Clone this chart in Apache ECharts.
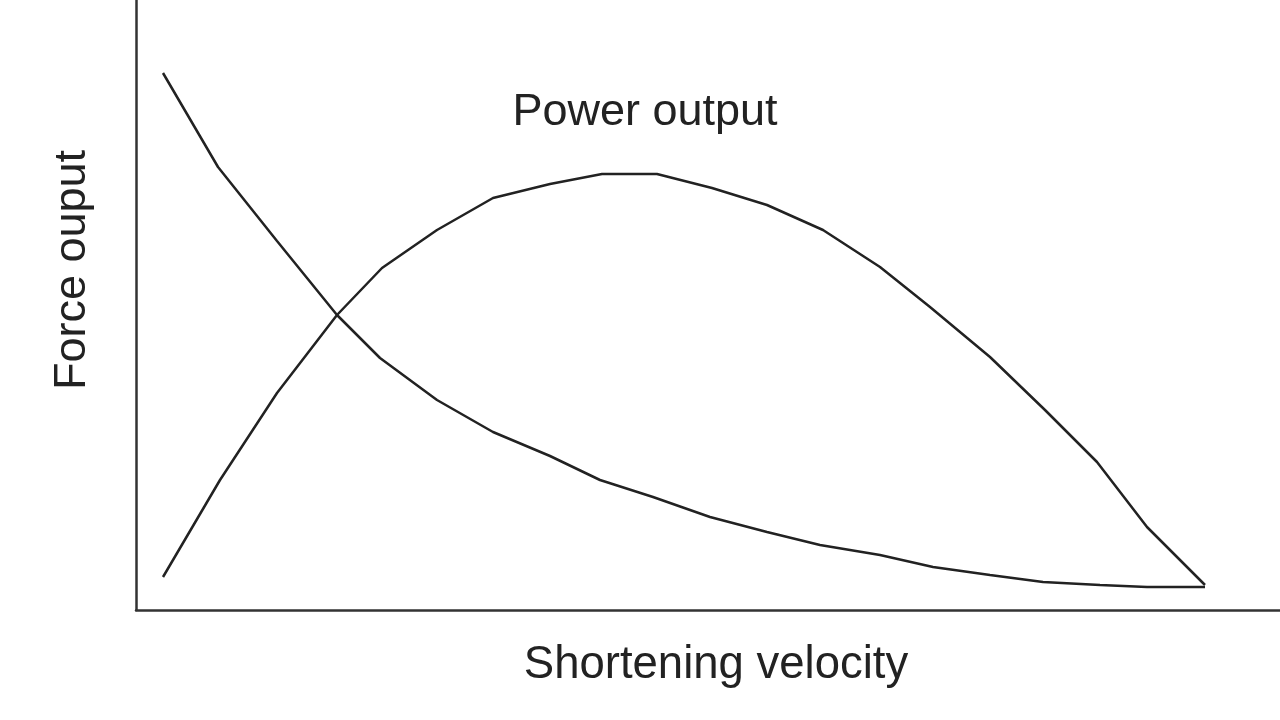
<!DOCTYPE html>
<html>
<head>
<meta charset="utf-8">
<script src="https://cdn.jsdelivr.net/npm/echarts@6/dist/echarts.min.js"></script>
<style>html,body{margin:0;padding:0;background:#fff}#c{width:1280px;height:720px}</style>
</head>
<body>
<div id="c"></div>
<script>
// Shortening velocity (arbitrary units) and outputs
const forceVelocity = [27, 82, 141, 201, 244, 301, 357, 414, 464, 517, 574, 631, 684, 744, 797, 854, 907, 964, 1011, 1069];
const forceValues   = [537, 443, 369, 295, 252, 210, 178, 154, 130, 113, 93, 78, 65, 55, 43, 35, 28, 25, 23, 23];
const powerVelocity = [27, 84, 141, 201, 246, 301, 357, 414, 466, 521, 576, 631, 687, 744, 794, 854, 909, 961, 1011, 1069];
const powerValues   = [33, 130, 217, 295, 342, 380, 412, 426, 436, 436, 422, 405, 380, 343, 303, 253, 200, 148, 83, 25];
const xLabel = 'Shortening velocity';
const yLabel = 'Force ouput';
const powerLabel = 'Power output';

const zip = (a, b) => a.map((v, i) => [v, b[i]]);
const font = '"Liberation Sans", Arial, Helvetica, sans-serif';
const chart = echarts.init(document.getElementById('c'));
chart.setOption({
  animation: false,
  backgroundColor: '#fff',
  grid: { left: 136, right: 0, top: 0, bottom: 110 },
  xAxis: {
    type: 'value', min: 0, max: 1144,
    axisLine: { show: true, lineStyle: { color: '#333', width: 2.5 } },
    axisTick: { show: false }, axisLabel: { show: false }, splitLine: { show: false }
  },
  yAxis: {
    type: 'value', min: 0, max: 610,
    axisLine: { show: true, lineStyle: { color: '#333', width: 2.5 } },
    axisTick: { show: false }, axisLabel: { show: false }, splitLine: { show: false }
  },
  series: [
    { name: 'Force', type: 'line', data: zip(forceVelocity, forceValues), symbol: 'none',
      lineStyle: { color: '#222', width: 2.5 } },
    { name: 'Power', type: 'line', data: zip(powerVelocity, powerValues), symbol: 'none',
      lineStyle: { color: '#222', width: 2.5 } }
  ],
  graphic: [
    { type: 'text', x: 645, y: 113, style: { text: powerLabel, font: '45px ' + font, fill: '#222', textAlign: 'center', textVerticalAlign: 'middle' } },
    { type: 'text', x: 716, y: 665, style: { text: xLabel, font: '45.5px ' + font, fill: '#222', textAlign: 'center', textVerticalAlign: 'middle' } },
    { type: 'text', x: 73, y: 270, rotation: Math.PI / 2, style: { text: yLabel, font: '45px ' + font, fill: '#222', textAlign: 'center', textVerticalAlign: 'middle' } }
  ]
});
</script>
</body>
</html>
